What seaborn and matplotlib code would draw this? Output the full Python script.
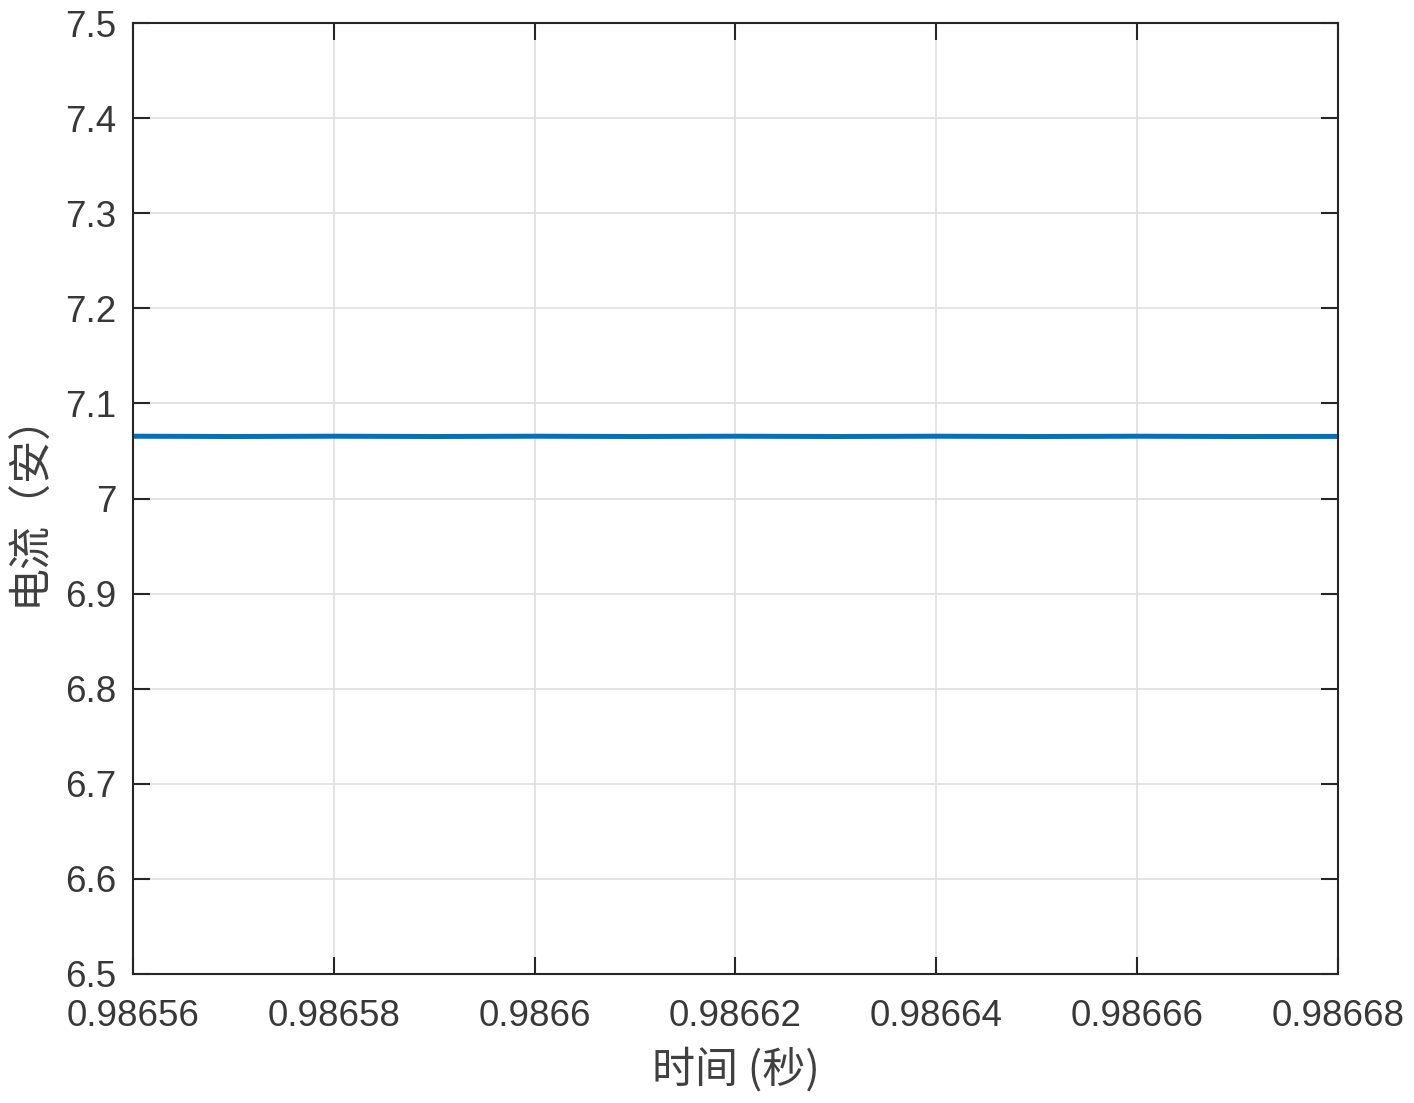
import numpy as np
import pandas as pd
import seaborn as sns
import matplotlib.pyplot as plt
from matplotlib.ticker import FuncFormatter

# time (s) and current (A)
t = [0.98656, 0.98657, 0.98658, 0.98659, 0.98660, 0.98661, 0.98662,
     0.98663, 0.98664, 0.98665, 0.98666, 0.98667, 0.98668]
current = [7.0655, 7.0652, 7.0655, 7.0652, 7.0655, 7.0652, 7.0655,
           7.0652, 7.0655, 7.0652, 7.0655, 7.0652, 7.0653]
xticks = [0.98656, 0.98658, 0.98660, 0.98662, 0.98664, 0.98666, 0.98668]
yticks = [6.5, 6.6, 6.7, 6.8, 6.9, 7.0, 7.1, 7.2, 7.3, 7.4, 7.5]

df = pd.DataFrame({"t": t, "i": current})

sns.set_style("white")
plt.rcParams['font.family'] = ['Liberation Sans', 'Noto Sans CJK SC', 'DejaVu Sans']

fig = plt.figure(figsize=(14.14, 11.03), dpi=100)
ax = fig.add_axes([0.094, 0.117, 0.8523, 0.8621])

sns.lineplot(data=df, x="t", y="i", ax=ax, color="#0072BD", linewidth=3.6)

ax.set_xlim(0.98656, 0.98668)
ax.set_ylim(6.5, 7.5)
ax.set_xticks(xticks)
ax.set_yticks(yticks)
fmt = FuncFormatter(lambda v, p: "%g" % round(v, 6))
ax.xaxis.set_major_formatter(fmt)
ax.yaxis.set_major_formatter(fmt)

ax.grid(True, color="#dfdfdf", linewidth=1.2)
for s in ax.spines.values():
    s.set_color("#262626")
    s.set_linewidth(1.5)
ax.tick_params(direction="in", length=12, width=1.5, color="#262626",
               labelsize=26.5, labelcolor="#383838", top=True, right=True,
               bottom=True, left=True)
ax.tick_params(axis="x", pad=18)
ax.tick_params(axis="y", pad=12)

cjk = ['Noto Sans CJK SC', 'DejaVu Sans']
ax.set_xlabel("时间 (秒)", fontsize=31, color="#404040", family=cjk, labelpad=10)
ax.set_ylabel("电流（安）", fontsize=31, color="#404040", family=cjk, labelpad=10)

plt.savefig("out.png", dpi=100)
